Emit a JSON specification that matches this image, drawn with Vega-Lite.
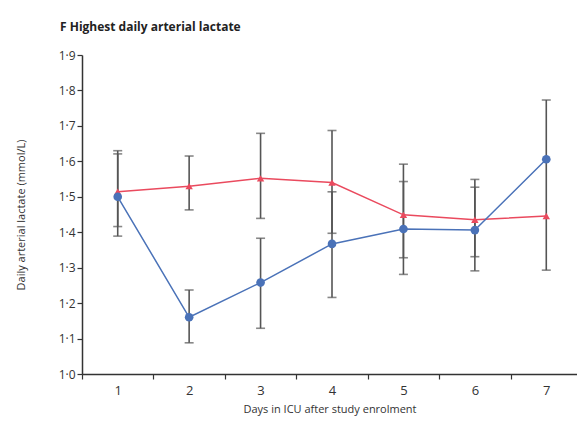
{
  "$schema": "https://vega.github.io/schema/vega-lite/v6.json",
  "width": 495,
  "height": 319,
  "autosize": {"type": "none"},
  "padding": {"left": 82, "top": 55, "right": 0, "bottom": 58},
  "background": "white",
  "title": {"text": "F  Highest daily arterial lactate", "anchor": "start", "frame": "group", "dx": -22, "offset": 15, "fontSize": 12, "fontWeight": "bold", "font": "Open Sans", "color": "#222"},
  "config": {
    "view": {"stroke": null},
    "axisY": {
      "tickColor": "#333", "tickSize": 5, "tickWidth": 1.2,
      "domainColor": "#333", "domainWidth": 1.5,
      "grid": false, "labelOverlap": false,
      "labelFont": "Open Sans", "labelFontSize": 12, "labelColor": "#333", "labelPadding": 2,
      "titleFont": "Open Sans", "titleFontSize": 11, "titleFontWeight": "normal", "titleColor": "#333", "titlePadding": 32
    }
  },
  "data": {"values": [
    {"day": 1, "group": "Red", "mean": 1.514, "lo": 1.389, "hi": 1.630},
    {"day": 2, "group": "Red", "mean": 1.530, "lo": 1.463, "hi": 1.615},
    {"day": 3, "group": "Red", "mean": 1.552, "lo": 1.439, "hi": 1.679},
    {"day": 4, "group": "Red", "mean": 1.540, "lo": 1.397, "hi": 1.687},
    {"day": 5, "group": "Red", "mean": 1.449, "lo": 1.328, "hi": 1.592},
    {"day": 6, "group": "Red", "mean": 1.435, "lo": 1.331, "hi": 1.549},
    {"day": 7, "group": "Red", "mean": 1.446, "lo": null, "hi": null},
    {"day": 1, "group": "Blue", "mean": 1.500, "lo": 1.416, "hi": 1.621},
    {"day": 2, "group": "Blue", "mean": 1.160, "lo": 1.088, "hi": 1.237},
    {"day": 3, "group": "Blue", "mean": 1.258, "lo": 1.129, "hi": 1.383},
    {"day": 4, "group": "Blue", "mean": 1.367, "lo": 1.216, "hi": 1.514},
    {"day": 5, "group": "Blue", "mean": 1.409, "lo": 1.281, "hi": 1.543},
    {"day": 6, "group": "Blue", "mean": 1.406, "lo": 1.291, "hi": 1.527},
    {"day": 7, "group": "Blue", "mean": 1.606, "lo": 1.293, "hi": 1.773}
  ]},
  "encoding": {
    "x": {
      "field": "day", "type": "quantitative",
      "scale": {"domain": [0.5, 7.43], "nice": false, "zero": false},
      "axis": {
        "title": "Days in ICU after study enrolment",
        "values": [0.5, 1, 1.5, 2, 2.5, 3, 3.5, 4, 4.5, 5, 5.5, 6, 6.5, 7],
        "labelExpr": "datum.value % 1 === 0 ? format(datum.value, 'd') : ''",
        "labelOverlap": false,
        "tickColor": {"condition": {"test": "datum.value % 1 === 0", "value": "transparent"}, "value": "#333"},
        "tickSize": 5, "tickWidth": 1.2,
        "domainColor": "#333", "domainWidth": 1.5,
        "grid": false,
        "labelFont": "Open Sans", "labelFontSize": 13, "labelColor": "#333", "labelPadding": 5,
        "titleFont": "Open Sans", "titleFontSize": 11, "titleFontWeight": "normal", "titleColor": "#333", "titlePadding": 6
      }
    }
  },
  "layer": [
    {
      "mark": {"type": "rule", "color": "#555", "strokeWidth": 1.6},
      "encoding": {
        "y": {"field": "lo", "type": "quantitative", "scale": {"domain": [1.0, 1.9], "nice": false, "zero": false},
          "axis": {"title": "Daily arterial lactate (mmol/L)", "values": [1.0, 1.1, 1.2, 1.3, 1.4, 1.5, 1.6, 1.7, 1.8, 1.9], "labelExpr": "replace(format(datum.value, '.1f'), '.', '·')"}},
        "y2": {"field": "hi"}
      }
    },
    {
      "mark": {"type": "tick", "color": "#555", "size": 9, "thickness": 1.6, "orient": "horizontal"},
      "encoding": {"y": {"field": "lo", "type": "quantitative",
          "axis": {"title": "Daily arterial lactate (mmol/L)", "values": [1.0, 1.1, 1.2, 1.3, 1.4, 1.5, 1.6, 1.7, 1.8, 1.9], "labelExpr": "replace(format(datum.value, '.1f'), '.', '·')"}}}
    },
    {
      "mark": {"type": "tick", "color": "#555", "size": 9, "thickness": 1.6, "orient": "horizontal"},
      "encoding": {"y": {"field": "hi", "type": "quantitative",
          "axis": {"title": "Daily arterial lactate (mmol/L)", "values": [1.0, 1.1, 1.2, 1.3, 1.4, 1.5, 1.6, 1.7, 1.8, 1.9], "labelExpr": "replace(format(datum.value, '.1f'), '.', '·')"}}}
    },
    {
      "mark": {"type": "line", "strokeWidth": 1.5},
      "encoding": {
        "y": {"field": "mean", "type": "quantitative",
          "axis": {"title": "Daily arterial lactate (mmol/L)", "values": [1.0, 1.1, 1.2, 1.3, 1.4, 1.5, 1.6, 1.7, 1.8, 1.9], "labelExpr": "replace(format(datum.value, '.1f'), '.', '·')"}},
        "color": {"field": "group", "type": "nominal", "scale": {"domain": ["Red", "Blue"], "range": ["#ea4a5e", "#4a72b8"]}, "legend": null}
      }
    },
    {
      "mark": {"type": "point", "filled": true, "opacity": 1},
      "encoding": {
        "y": {"field": "mean", "type": "quantitative",
          "axis": {"title": "Daily arterial lactate (mmol/L)", "values": [1.0, 1.1, 1.2, 1.3, 1.4, 1.5, 1.6, 1.7, 1.8, 1.9], "labelExpr": "replace(format(datum.value, '.1f'), '.', '·')"}},
        "shape": {"field": "group", "type": "nominal", "scale": {"domain": ["Red", "Blue"], "range": ["triangle-up", "circle"]}, "legend": null},
        "size": {"field": "group", "type": "nominal", "scale": {"domain": ["Red", "Blue"], "range": [55, 75]}, "legend": null},
        "color": {"field": "group", "type": "nominal", "scale": {"domain": ["Red", "Blue"], "range": ["#e0334a", "#1f4f96"]}, "legend": null}
      }
    }
  ]
}
